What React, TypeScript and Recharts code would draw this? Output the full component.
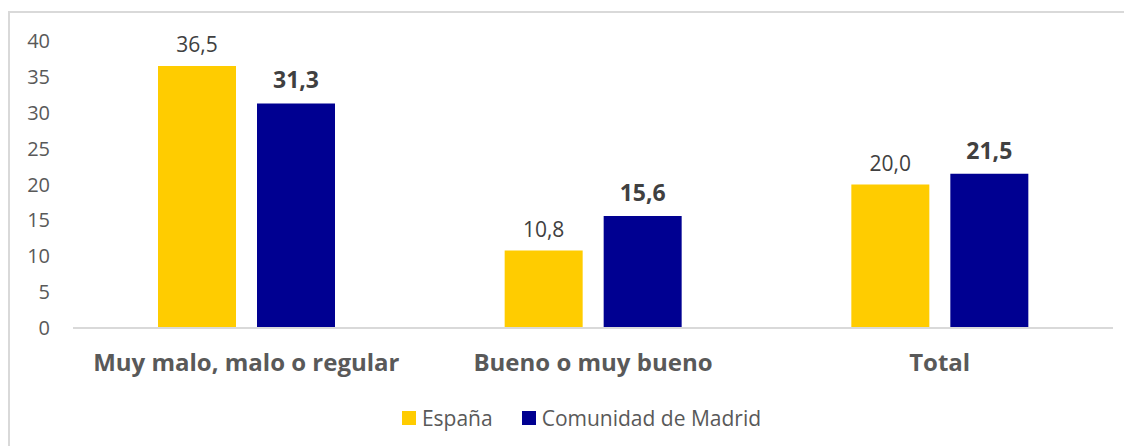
import { BarChart, Bar, XAxis, YAxis, Legend, LabelList } from 'recharts';

const categories = ['Muy malo, malo o regular', 'Bueno o muy bueno', 'Total'];
const espana = [36.5, 10.8, 20.0];
const madrid = [31.3, 15.6, 21.5];
const yTicks = [0, 5, 10, 15, 20, 25, 30, 35, 40];

const data = categories.map((name, i) => ({ name, espana: espana[i], madrid: madrid[i] }));

const font = '"Open Sans", "Noto Sans", sans-serif';
const fmt = (v: number) => v.toFixed(1).replace('.', ',');

const legendItems = [
  { label: 'España', color: '#FFCC00' },
  { label: 'Comunidad de Madrid', color: '#000091' },
];

function LegendContent() {
  return (
    <div
      style={{
        display: 'flex',
        justifyContent: 'center',
        alignItems: 'center',
        paddingTop: 16,
        paddingLeft: 40,
        fontFamily: font,
        fontSize: 21,
        color: '#595959',
      }}
    >
      {legendItems.map((item, i) => (
        <div key={item.label} style={{ display: 'flex', alignItems: 'center', marginLeft: i ? 29 : 0 }}>
          <span style={{ width: 14, height: 14, background: item.color, display: 'inline-block', marginRight: 6 }} />
          <span>{item.label}</span>
        </div>
      ))}
    </div>
  );
}

export default function App() {
  return (
    <div
      style={{
        width: 1124,
        height: 435,
        marginTop: 3,
        borderTop: '2px solid #d9d9d9',
        borderLeft: '2px solid #d9d9d9',
        background: '#fff',
      }}
    >
      <BarChart
        width={1122}
        height={433}
        data={data}
        margin={{ top: 28, right: 19, left: 0, bottom: 8 }}
        barGap={21}
        barSize={78}
      >
        <XAxis
          dataKey="name"
          height={60}
          axisLine={{ stroke: '#d9d9d9', strokeWidth: 2 }}
          tickLine={false}
          tickMargin={20}
          tick={{ fill: '#595959', fontSize: 24, fontWeight: 700, fontFamily: font }}
        />
        <YAxis
          width={63}
          domain={[0, 40]}
          ticks={yTicks}
          axisLine={false}
          tickLine={false}
          tickSize={0}
          tickMargin={23}
          tick={{ fill: '#595959', fontSize: 20, fontFamily: font }}
        />
        <Legend verticalAlign="bottom" height={50} content={<LegendContent />} />
        <Bar dataKey="espana" fill="#FFCC00" isAnimationActive={false}>
          <LabelList
            dataKey="espana"
            position="top"
            offset={14}
            formatter={(v: number) => fmt(v)}
            style={{ fill: '#404040', fontSize: 21, fontFamily: font }}
          />
        </Bar>
        <Bar dataKey="madrid" fill="#000091" isAnimationActive={false}>
          <LabelList
            dataKey="madrid"
            position="top"
            offset={15}
            formatter={(v: number) => fmt(v)}
            style={{ fill: '#404040', fontSize: 23, fontWeight: 700, fontFamily: font }}
          />
        </Bar>
      </BarChart>
    </div>
  );
}
